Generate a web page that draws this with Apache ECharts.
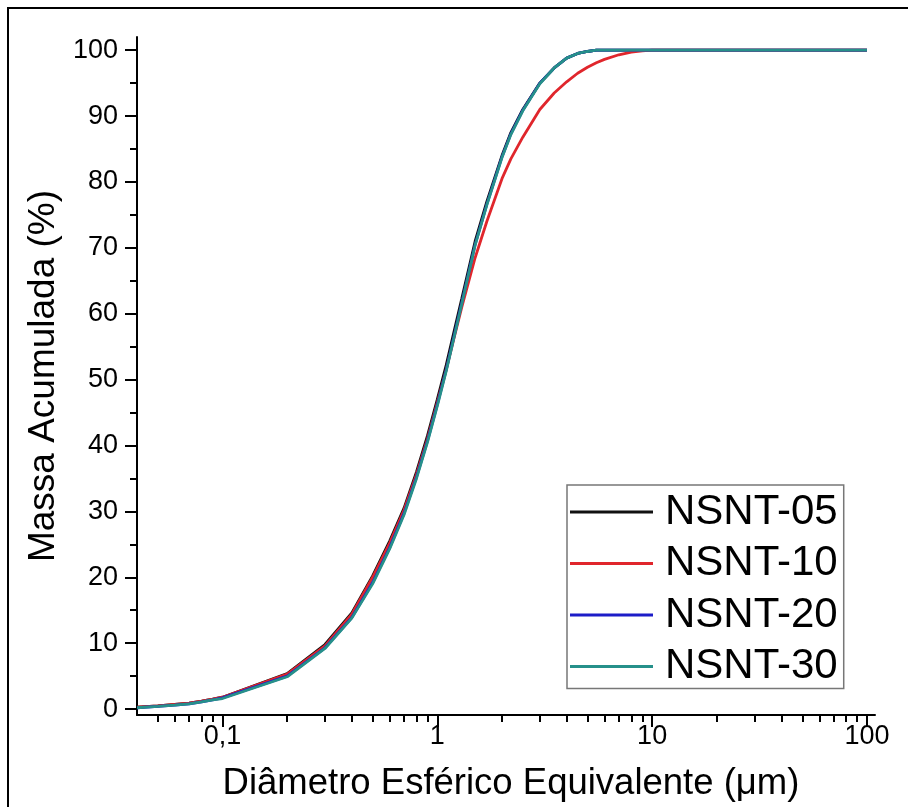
<!DOCTYPE html>
<html>
<head>
<meta charset="utf-8">
<script src="https://cdn.jsdelivr.net/npm/echarts@6/dist/echarts.min.js"></script>
<style>
  html, body { margin: 0; padding: 0; background: #fff; }
  #main { width: 908px; height: 807px; }
</style>
</head>
<body>
<div id="main"></div>
<script>
// diametro (um) e massa acumulada (%)
var diam   = [0.04, 0.05, 0.06, 0.07, 0.08, 0.09, 0.1, 0.2, 0.3, 0.4, 0.5, 0.6, 0.7, 0.8, 0.9, 1, 1.1, 1.2, 1.3, 1.5, 1.7, 2, 2.2, 2.5, 3, 3.5, 4, 4.5, 5, 5.5, 6, 7, 8, 9, 10, 20, 50, 100];
var nsnt05 = [0.3, 0.5, 0.7, 0.9, 1.2, 1.5, 1.8, 5.4, 9.8, 14.6, 20.2, 25.5, 30.5, 36, 41.5, 47, 52.2, 57.5, 62.3, 71, 77, 84, 87.5, 91, 95, 97.3, 98.8, 99.5, 99.8, 100, 100, 100, 100, 100, 100, 100, 100, 100];
var nsnt10 = [0.3, 0.5, 0.7, 0.9, 1.2, 1.5, 1.8, 5.3, 9.6, 14.4, 20, 25.2, 30.2, 35.6, 41, 46.5, 51.5, 56.5, 61, 68.5, 74, 80.5, 83.5, 86.8, 91, 93.5, 95.2, 96.5, 97.4, 98.1, 98.6, 99.3, 99.7, 99.9, 100, 100, 100, 100];
var nsnt20 = [0.2, 0.4, 0.6, 0.8, 1.1, 1.4, 1.7, 5, 9.3, 13.9, 19.2, 24.5, 29.7, 35.2, 40.7, 46.2, 51.5, 56.8, 61.7, 70.5, 76.6, 83.8, 87.3, 90.9, 95, 97.3, 98.8, 99.5, 99.8, 100, 100, 100, 100, 100, 100, 100, 100, 100];
var nsnt30 = [0.2, 0.4, 0.6, 0.8, 1.1, 1.4, 1.6, 4.9, 9.2, 13.8, 19, 24.3, 29.5, 35, 40.5, 46, 51.3, 56.6, 61.5, 70.4, 76.5, 83.7, 87.2, 90.8, 94.9, 97.3, 98.8, 99.5, 99.8, 100, 100, 100, 100, 100, 100, 100, 100, 100];

var seriesNames = ['NSNT-05', 'NSNT-10', 'NSNT-20', 'NSNT-30'];
var seriesColors = ['#111111', '#e0262c', '#1c1cc8', '#26908a'];

// marcas dos eixos
var xMajor = [0.1, 1, 10, 100];
var xMajorLabels = ['0,1', '1', '10', '100'];
var yMajor = [0, 10, 20, 30, 40, 50, 60, 70, 80, 90, 100];
var yMinor = [5, 15, 25, 35, 45, 55, 65, 75, 85, 95];

var xMinor = [];
[0.01, 0.1, 1, 10].forEach(function(dec){
    for (var k = 2; k <= 9; k++) {
        var v = +(k * dec).toPrecision(3);
        if (v > 0.04) xMinor.push(v);
    }
});

function pairs(ys){
    var out = [];
    for (var i = 0; i < diam.length; i++) out.push([diam[i], ys[i]]);
    return out;
}

var font = 'Liberation Sans, Arial, sans-serif';
var allData = [nsnt05, nsnt10, nsnt20, nsnt30];

var chart = echarts.init(document.getElementById('main'));
var option = {
    backgroundColor: '#fff',
    animation: false,
    grid: { left: 137, right: 33, top: 37, bottom: 91 },
    graphic: [{
        type: 'rect',
        shape: { x: 8, y: 8, width: 910, height: 810 },
        style: { fill: 'none', stroke: '#000', lineWidth: 2 },
        silent: true
    }],
    legend: {
        orient: 'vertical',
        left: 567, top: 485,
        padding: [5, 6, 0, 3],
        icon: 'rect',
        itemWidth: 83, itemHeight: 3,
        itemGap: 7.5,
        borderColor: '#777', borderWidth: 1.5,
        data: seriesNames,
        textStyle: { fontFamily: font, fontSize: 42, color: '#000', lineHeight: 44, padding: [0, 0, 0, 7] }
    },
    xAxis: [{
        type: 'log', logBase: 10, min: 0.04, max: 109,
        axisLine: { onZero: false, lineStyle: { color: '#000', width: 2 } },
        axisTick: { customValues: xMajor, length: 12, lineStyle: { color: '#000', width: 2 } },
        axisLabel: {
            customValues: xMajor, margin: 8,
            fontFamily: font, fontSize: 27, color: '#000',
            formatter: function(v){
                for (var i = 0; i < xMajor.length; i++) if (Math.abs(v - xMajor[i]) < 1e-9 * xMajor[i] + 1e-12) return xMajorLabels[i];
                return '';
            }
        },
        splitLine: { show: false },
        name: 'Diâmetro Esférico Equivalente (\u03bcm)',
        nameLocation: 'middle', nameGap: 50,
        nameTextStyle: { fontFamily: font, fontSize: 36.5, color: '#000', padding: [0, 0, 0, 10] }
    }, {
        type: 'log', logBase: 10, min: 0.04, max: 109, position: 'bottom',
        axisLine: { show: false, onZero: false },
        axisTick: { customValues: xMinor, length: 7, lineStyle: { color: '#000', width: 2 } },
        axisLabel: { show: false },
        splitLine: { show: false }
    }],
    yAxis: [{
        type: 'value', min: -0.9, max: 102, position: 'left',
        axisLine: { show: true, onZero: false, lineStyle: { color: '#000', width: 2 } },
        axisTick: { show: true, customValues: yMajor, length: 12, lineStyle: { color: '#000', width: 2 } },
        axisLabel: { customValues: yMajor, margin: 19, fontFamily: font, fontSize: 27, color: '#000' },
        splitLine: { show: false },
        name: 'Massa Acumulada (%)',
        nameLocation: 'middle', nameGap: 75,
        nameTextStyle: { fontFamily: font, fontSize: 37, color: '#000' }
    }, {
        type: 'value', min: -0.9, max: 102, position: 'left',
        axisLine: { show: false, onZero: false },
        axisTick: { show: true, customValues: yMinor, length: 7, lineStyle: { color: '#000', width: 2 } },
        axisLabel: { show: false },
        splitLine: { show: false }
    }],
    series: seriesNames.map(function(name, i){
        return {
            name: name,
            type: 'line',
            xAxisIndex: 0, yAxisIndex: 0,
            data: pairs(allData[i]),
            symbol: 'none',
            color: seriesColors[i],
            lineStyle: { width: 2.8, color: seriesColors[i] }
        };
    })
};
chart.setOption(option);
</script>
</body>
</html>
